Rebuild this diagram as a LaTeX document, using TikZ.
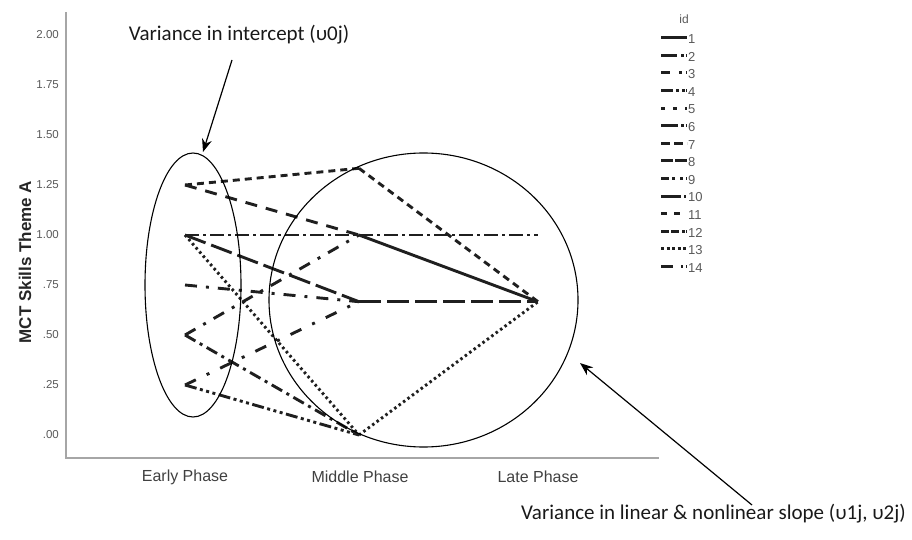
\documentclass[tikz,border=0pt]{standalone}
\usepackage{fontspec}
\setmainfont{Liberation Sans}
\newfontfamily\annofont{Carlito}
\usetikzlibrary{arrows.meta}
\begin{document}
\begin{tikzpicture}[x=1pt,y=-1pt,
  axisline/.style={draw=black!35, line width=1.3pt},
  dataline/.style={line width=2.9pt, draw=black!88},
  legline/.style={line width=2.9pt, draw=black!88},
  ticklab/.style={font=\fontsize{11.5}{13}\selectfont, text=black!65, anchor=east, inner sep=0pt},
  catlab/.style={font=\fontsize{16}{18}\selectfont, text=black!75, inner sep=0pt},
  leglab/.style={font=\fontsize{13}{15}\selectfont, text=black!65, anchor=west, inner sep=0pt},
  anno/.style={font=\annofont\fontsize{21}{24}\selectfont, text=black!90, inner sep=0pt},
  ring/.style={draw=black, line width=1.1pt},
  callout/.style={draw=black, line width=1.2pt, -{Stealth[length=13pt,width=10pt]}},
  pshort/.style={dash pattern=on 7pt off 5pt},
  pmed/.style={dash pattern=on 12pt off 9pt},
  pdashdot/.style={dash pattern=on 14pt off 4pt on 3pt off 4pt},
  plong/.style={dash pattern=on 22pt off 6pt},
  pdots/.style={dash pattern=on 2.5pt off 3pt},
  pgapdot/.style={dash pattern=on 12pt off 9pt on 3pt off 9pt},
  pdashdottwo/.style={dash pattern=on 12pt off 5pt on 3pt off 5pt},
  pdashdotsparse/.style={dash pattern=on 12pt off 12pt on 3pt off 12pt},
  pdddd/.style={dash pattern=on 12pt off 3.5pt on 3pt off 3.5pt on 3pt off 3.5pt on 3pt off 3.5pt},
  lg1/.style={},
  lg2/.style={dash pattern=on 16pt off 4pt on 3pt off 2pt},
  lg3/.style={dash pattern=on 9pt off 9pt on 3pt off 4pt},
  lg4/.style={dash pattern=on 12pt off 3pt on 3pt off 3pt on 3pt off 1pt},
  lg5/.style={dash pattern=on 4pt off 8pt},
  lg6/.style={dash pattern=on 17pt off 3pt on 3pt off 2pt},
  lg7/.style={dash pattern=on 9pt off 4pt},
  lg8/.style={dash pattern=on 12pt off 2pt},
  lg9/.style={dash pattern=on 8pt off 3pt on 3pt off 5pt on 3pt off 3pt},
  lg10/.style={dash pattern=on 20pt off 3pt on 2pt off 1pt},
  lg11/.style={dash pattern=on 6pt off 7pt},
  lg12/.style={dash pattern=on 8pt off 2pt on 8pt off 3pt on 3pt off 1pt},
  lg13/.style={dash pattern=on 3pt off 2.5pt},
  lg14/.style={dash pattern=on 12pt off 8pt on 2pt off 3pt}
]
\useasboundingbox (0,0) rectangle (912,540);

% axes
\coordinate (ytop) at (66,12);
\coordinate (orig) at (66,458);
\coordinate (xend) at (659,458);
\draw[axisline] (ytop) -- (orig) -- (xend);

% y tick labels
\foreach \v/\t [count=\i] in {2/2.00,1.75/1.75,1.5/1.50,1.25/1.25,1/1.00,0.75/.75,0.5/.50,0.25/.25,0/.00}
  \node[ticklab] (yt\i) at (59,{435-200*\v}) {\t};

\node[font=\bfseries\fontsize{17}{19}\selectfont, text=black!85, rotate=90] (ytitle) at (25,262) {MCT Skills Theme A};

% category labels
\node[catlab] (cE) at (185,477) {Early Phase};
\node[catlab] (cM) at (360,477) {Middle Phase};
\node[catlab] (cL) at (538,477) {Late Phase};

% data points
\coordinate (E125) at (185,185);
\coordinate (E100) at (185,235);
\coordinate (E075) at (185,285);
\coordinate (E050) at (185,335);
\coordinate (E025) at (185,385);
\coordinate (M133) at (359,168.3);
\coordinate (M100) at (359,235);
\coordinate (M067) at (359,301.7);
\coordinate (M000) at (359,435);
\coordinate (L100) at (538,235);
\coordinate (L067) at (538,301.7);

% early -> middle
\draw[dataline,pshort] (E125) -- (M133);
\draw[dataline,pmed] (E125) -- (M100);
\draw[dataline,pdashdot] (E100) -- (M100);
\draw[dataline,plong] (E100) -- (M067);
\draw[dataline,pdots] (E100) -- (M000);
\draw[dataline,pgapdot] (E075) -- (M067);
\draw[dataline,pgapdot] (E050) -- (M100);
\draw[dataline,pdashdottwo] (E050) -- (M000);
\draw[dataline,pdashdotsparse] (E025) -- (M067);
\draw[dataline,pdddd] (E025) -- (M000);

% middle -> late
\draw[dataline,pshort] (M133) -- (L067);
\draw[dataline,pdashdot] (M100) -- (L100);
\draw[dataline] (M100) -- (L067);
\draw[dataline,plong] (M067) -- (L067);
\draw[dataline,pdots] (M000) -- (L067);

% legend
\node[font=\fontsize{12}{14}\selectfont, text=black!65] (legtitle) at (684,19) {id};
\foreach \i in {1,...,14}
{
  \coordinate (la\i) at (661,{37.7+17.6*(\i-1)});
  \coordinate (lb\i) at (687,{37.7+17.6*(\i-1)});
  \draw[legline,lg\i] (la\i) -- (lb\i);
  \node[leglab] (ln\i) at (688,{39+17.6*(\i-1)}) {\i};
}

% variance ellipses
\draw[ring] (193,285) ellipse [x radius=48, y radius=132];
\draw[ring] (423.5,300) ellipse [x radius=154.5, y radius=147];
\coordinate (ellTop) at (203,152);
\coordinate (circEdge) at (580,363);

% annotations
\node[anno] (annoTop) at (239,35) {Variance in intercept (υ0j)};
\node[anno, anchor=east] (annoBot) at (906,514) {Variance in linear \& nonlinear slope (υ1j, υ2j)};
\coordinate (tailTop) at (232,60);
\coordinate (tailBot) at (752,505);
\draw[callout] (tailTop) -- (ellTop);
\draw[callout] (tailBot) -- (circEdge);
\end{tikzpicture}
\end{document}
